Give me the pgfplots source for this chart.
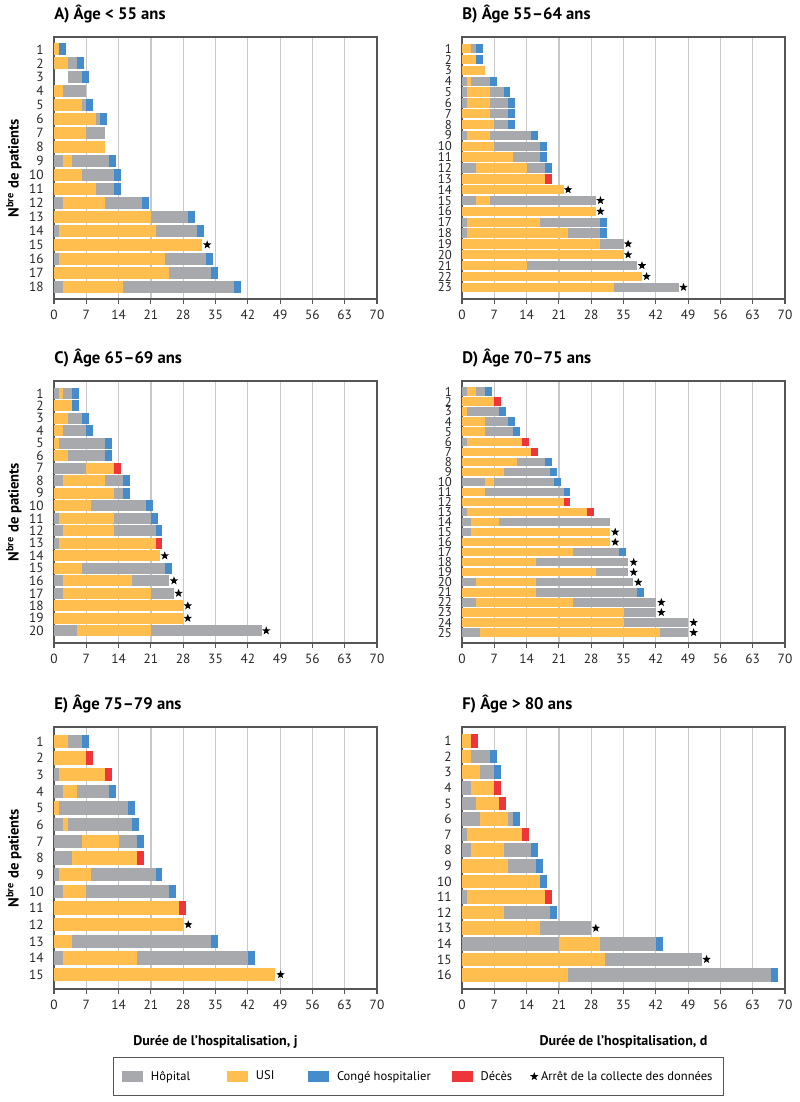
\documentclass[border=0pt]{standalone}
\usepackage{fontspec}
\setmainfont{PT Sans}
\usepackage{pgfplots}
\pgfplotsset{compat=1.18}
\definecolor{cgray}{RGB}{167,169,172}
\definecolor{cyel}{RGB}{255,190,77}
\definecolor{cblue}{RGB}{68,140,204}
\definecolor{cred}{RGB}{238,54,58}
\definecolor{gridc}{RGB}{200,200,200}
\definecolor{axc}{RGB}{85,85,85}
\pgfdeclareplotmark{fstar}{%
  \pgfpathmoveto{\pgfpointpolar{90}{\pgfplotmarksize}}%
  \pgfpathlineto{\pgfpointpolar{126}{0.42\pgfplotmarksize}}%
  \pgfpathlineto{\pgfpointpolar{162}{\pgfplotmarksize}}%
  \pgfpathlineto{\pgfpointpolar{198}{0.42\pgfplotmarksize}}%
  \pgfpathlineto{\pgfpointpolar{234}{\pgfplotmarksize}}%
  \pgfpathlineto{\pgfpointpolar{270}{0.42\pgfplotmarksize}}%
  \pgfpathlineto{\pgfpointpolar{306}{\pgfplotmarksize}}%
  \pgfpathlineto{\pgfpointpolar{342}{0.42\pgfplotmarksize}}%
  \pgfpathlineto{\pgfpointpolar{18}{\pgfplotmarksize}}%
  \pgfpathlineto{\pgfpointpolar{54}{0.42\pgfplotmarksize}}%
  \pgfpathclose
  \pgfusepathqfill
}
\pgfplotsset{
  panel/.style={
    width=242.25pt, height=196.5pt, scale only axis, anchor=north west,
    xmin=0, xmax=70, xtick={0,7,...,70},
    y dir=reverse,
    xmajorgrids,
    grid style={line width=0.9pt, draw=gridc},
    axis line style={draw=axc, line width=0.8pt},
    tick align=outside, xtick pos=left, ytick pos=left,
    major tick length=3.5pt,
    xtick style={draw=axc, line width=0.8pt},
    ytick style={draw=none},
    tick label style={font=\fontsize{10}{12}\selectfont, text=black!85},
    xticklabel style={yshift=-1.5pt},
    yticklabel style={inner ysep=0pt, inner xsep=4pt},
    /pgf/number format/assume math mode=true,
    unbounded coords=jump,
    title style={at={(axis description cs:0,1)}, anchor=base west, yshift=7pt, font=\bfseries\fontsize{12.5}{15}\selectfont, inner sep=0pt},
    ylabel style={at={(axis description cs:-0.124,0.5)}, anchor=center, font=\bfseries\fontsize{11}{13}\selectfont},
    xlabel style={at={(axis description cs:0.5,-0.202)}, anchor=center, font=\bfseries\fontsize{10.5}{12}\selectfont},
    seg/.style={no markers, line width=\bw, forget plot},
    st/.style={only marks, mark=fstar, mark size=3.3pt, black, forget plot},
  }
}
\begin{document}
\begin{tikzpicture}
\path[use as bounding box] (0,0) rectangle (599.25pt,-826.5pt);

% ---------------- A ----------------
\def\bw{8.8pt}
\begin{axis}[panel, at={(40.5pt,-27.75pt)}, ymin=0.12, ymax=18.88, ytick={1,...,18},
  title={A) Âge < 55 ans}, ylabel={N\textsuperscript{bre} de patients}]
\addplot[seg, cgray] coordinates {(3,2)(5,2)(nan,nan)(3,3)(6,3)(nan,nan)(2,4)(7,4)(nan,nan)(6,5)(7,5)(nan,nan)(9,6)(10,6)(nan,nan)(7,7)(11,7)(nan,nan)(0,9)(2,9)(nan,nan)(4,9)(12,9)(nan,nan)(6,10)(13,10)(nan,nan)(9,11)(13,11)(nan,nan)(0,12)(2,12)(nan,nan)(11,12)(19,12)(nan,nan)(21,13)(29,13)(nan,nan)(0,14)(1,14)(nan,nan)(22,14)(31,14)(nan,nan)(0,16)(1,16)(nan,nan)(24,16)(33,16)(nan,nan)(25,17)(34,17)(nan,nan)(0,18)(2,18)(nan,nan)(15,18)(39,18)};
\addplot[seg, cyel] coordinates {(0,1)(1,1)(nan,nan)(0,2)(3,2)(nan,nan)(0,4)(2,4)(nan,nan)(0,5)(6,5)(nan,nan)(0,6)(9,6)(nan,nan)(0,7)(7,7)(nan,nan)(0,8)(11,8)(nan,nan)(2,9)(4,9)(nan,nan)(0,10)(6,10)(nan,nan)(0,11)(9,11)(nan,nan)(2,12)(11,12)(nan,nan)(0,13)(21,13)(nan,nan)(1,14)(22,14)(nan,nan)(0,15)(32,15)(nan,nan)(1,16)(24,16)(nan,nan)(0,17)(25,17)(nan,nan)(2,18)(15,18)};
\addplot[seg, cblue] coordinates {(1,1)(2.5,1)(nan,nan)(5,2)(6.5,2)(nan,nan)(6,3)(7.5,3)(nan,nan)(7,5)(8.5,5)(nan,nan)(10,6)(11.5,6)(nan,nan)(12,9)(13.5,9)(nan,nan)(13,10)(14.5,10)(nan,nan)(13,11)(14.5,11)(nan,nan)(19,12)(20.5,12)(nan,nan)(29,13)(30.5,13)(nan,nan)(31,14)(32.5,14)(nan,nan)(33,16)(34.5,16)(nan,nan)(34,17)(35.5,17)(nan,nan)(39,18)(40.5,18)};
\addplot[st] coordinates {(33.2,15)};
\end{axis}

% ---------------- B ----------------
\def\bw{7pt}
\begin{axis}[panel, at={(346.5pt,-27.75pt)}, ymin=-0.08, ymax=24.08, ytick={1,...,23},
  yticklabel style={font=\fontsize{9.6}{10}\selectfont},
  title={B) Âge 55–64 ans}]
\addplot[seg, cgray] coordinates {(2,1)(3,1)(nan,nan)(0,4)(1,4)(nan,nan)(2,4)(6,4)(nan,nan)(0,5)(1,5)(nan,nan)(6,5)(9,5)(nan,nan)(0,6)(1,6)(nan,nan)(6,6)(10,6)(nan,nan)(6,7)(10,7)(nan,nan)(7,8)(10,8)(nan,nan)(0,9)(1,9)(nan,nan)(6,9)(15,9)(nan,nan)(7,10)(17,10)(nan,nan)(11,11)(17,11)(nan,nan)(0,12)(3,12)(nan,nan)(14,12)(18,12)(nan,nan)(0,15)(3,15)(nan,nan)(6,15)(29,15)(nan,nan)(0,17)(1,17)(nan,nan)(17,17)(30,17)(nan,nan)(0,18)(1,18)(nan,nan)(23,18)(30,18)(nan,nan)(30,19)(35,19)(nan,nan)(14,21)(38,21)(nan,nan)(33,23)(47,23)};
\addplot[seg, cyel] coordinates {(0,1)(2,1)(nan,nan)(0,2)(3,2)(nan,nan)(0,3)(5,3)(nan,nan)(1,4)(2,4)(nan,nan)(1,5)(6,5)(nan,nan)(1,6)(6,6)(nan,nan)(0,7)(6,7)(nan,nan)(0,8)(7,8)(nan,nan)(1,9)(6,9)(nan,nan)(0,10)(7,10)(nan,nan)(0,11)(11,11)(nan,nan)(3,12)(14,12)(nan,nan)(0,13)(18,13)(nan,nan)(0,14)(22,14)(nan,nan)(3,15)(6,15)(nan,nan)(0,16)(29,16)(nan,nan)(1,17)(17,17)(nan,nan)(1,18)(23,18)(nan,nan)(0,19)(30,19)(nan,nan)(0,20)(35,20)(nan,nan)(0,21)(14,21)(nan,nan)(0,22)(39,22)(nan,nan)(0,23)(33,23)};
\addplot[seg, cblue] coordinates {(3,1)(4.5,1)(nan,nan)(3,2)(4.5,2)(nan,nan)(6,4)(7.5,4)(nan,nan)(9,5)(10.5,5)(nan,nan)(10,6)(11.5,6)(nan,nan)(10,7)(11.5,7)(nan,nan)(10,8)(11.5,8)(nan,nan)(15,9)(16.5,9)(nan,nan)(17,10)(18.5,10)(nan,nan)(17,11)(18.5,11)(nan,nan)(18,12)(19.5,12)(nan,nan)(30,17)(31.5,17)(nan,nan)(30,18)(31.5,18)};
\addplot[seg, cred] coordinates {(18,13)(19.5,13)};
\addplot[st] coordinates {(23,14)(30,15)(30,16)(36,19)(36,20)(39,21)(40,22)(48,23)};
\end{axis}

% ---------------- C ----------------
\def\bw{8pt}
\begin{axis}[panel, at={(40.5pt,-285.75pt)}, ymin=0.02, ymax=20.98, ytick={1,...,20},
  title={C) Âge 65–69 ans}, ylabel={N\textsuperscript{bre} de patients}]
\addplot[seg, cgray] coordinates {(0,1)(1,1)(nan,nan)(2,1)(4,1)(nan,nan)(3,3)(6,3)(nan,nan)(2,4)(7,4)(nan,nan)(1,5)(11,5)(nan,nan)(3,6)(11,6)(nan,nan)(0,7)(7,7)(nan,nan)(0,8)(2,8)(nan,nan)(11,8)(15,8)(nan,nan)(13,9)(15,9)(nan,nan)(8,10)(20,10)(nan,nan)(0,11)(1,11)(nan,nan)(13,11)(21,11)(nan,nan)(0,12)(2,12)(nan,nan)(13,12)(22,12)(nan,nan)(0,13)(1,13)(nan,nan)(6,15)(24,15)(nan,nan)(0,16)(2,16)(nan,nan)(17,16)(25,16)(nan,nan)(0,17)(2,17)(nan,nan)(21,17)(26,17)(nan,nan)(0,20)(5,20)(nan,nan)(21,20)(45,20)};
\addplot[seg, cyel] coordinates {(1,1)(2,1)(nan,nan)(0,2)(4,2)(nan,nan)(0,3)(3,3)(nan,nan)(0,4)(2,4)(nan,nan)(0,5)(1,5)(nan,nan)(0,6)(3,6)(nan,nan)(7,7)(13,7)(nan,nan)(2,8)(11,8)(nan,nan)(0,9)(13,9)(nan,nan)(0,10)(8,10)(nan,nan)(1,11)(13,11)(nan,nan)(2,12)(13,12)(nan,nan)(1,13)(22,13)(nan,nan)(0,14)(23,14)(nan,nan)(0,15)(6,15)(nan,nan)(2,16)(17,16)(nan,nan)(2,17)(21,17)(nan,nan)(0,18)(28,18)(nan,nan)(0,19)(28,19)(nan,nan)(5,20)(21,20)};
\addplot[seg, cblue] coordinates {(4,1)(5.5,1)(nan,nan)(4,2)(5.5,2)(nan,nan)(6,3)(7.5,3)(nan,nan)(7,4)(8.5,4)(nan,nan)(11,5)(12.5,5)(nan,nan)(11,6)(12.5,6)(nan,nan)(15,8)(16.5,8)(nan,nan)(15,9)(16.5,9)(nan,nan)(20,10)(21.5,10)(nan,nan)(21,11)(22.5,11)(nan,nan)(22,12)(23.5,12)(nan,nan)(24,15)(25.5,15)};
\addplot[seg, cred] coordinates {(13,7)(14.5,7)(nan,nan)(22,13)(23.5,13)};
\addplot[st] coordinates {(24,14)(26,16)(27,17)(29,18)(29,19)(46,20)};
\end{axis}

% ---------------- D ----------------
\def\bw{6.25pt}
\begin{axis}[panel, at={(346.5pt,-285.75pt)}, ymin=-0.04, ymax=26.04, ytick={1,...,25},
  yticklabel style={font=\fontsize{9.6}{10}\selectfont},
  title={D) Âge 70–75 ans}]
\addplot[seg, cgray] coordinates {(0,1)(1,1)(nan,nan)(3,1)(5,1)(nan,nan)(1,3)(8,3)(nan,nan)(5,4)(10,4)(nan,nan)(5,5)(11,5)(nan,nan)(0,6)(1,6)(nan,nan)(12,8)(18,8)(nan,nan)(9,9)(19,9)(nan,nan)(0,10)(5,10)(nan,nan)(7,10)(20,10)(nan,nan)(5,11)(22,11)(nan,nan)(0,13)(1,13)(nan,nan)(0,14)(2,14)(nan,nan)(8,14)(32,14)(nan,nan)(0,15)(2,15)(nan,nan)(24,17)(34,17)(nan,nan)(16,18)(36,18)(nan,nan)(29,19)(36,19)(nan,nan)(0,20)(3,20)(nan,nan)(16,20)(37,20)(nan,nan)(16,21)(38,21)(nan,nan)(0,22)(3,22)(nan,nan)(24,22)(42,22)(nan,nan)(35,23)(42,23)(nan,nan)(35,24)(49,24)(nan,nan)(0,25)(4,25)(nan,nan)(43,25)(49,25)};
\addplot[seg, cyel] coordinates {(1,1)(3,1)(nan,nan)(0,2)(7,2)(nan,nan)(0,3)(1,3)(nan,nan)(0,4)(5,4)(nan,nan)(0,5)(5,5)(nan,nan)(1,6)(13,6)(nan,nan)(0,7)(15,7)(nan,nan)(0,8)(12,8)(nan,nan)(0,9)(9,9)(nan,nan)(5,10)(7,10)(nan,nan)(0,11)(5,11)(nan,nan)(0,12)(22,12)(nan,nan)(1,13)(27,13)(nan,nan)(2,14)(8,14)(nan,nan)(2,15)(32,15)(nan,nan)(0,16)(32,16)(nan,nan)(0,17)(24,17)(nan,nan)(0,18)(16,18)(nan,nan)(0,19)(29,19)(nan,nan)(3,20)(16,20)(nan,nan)(0,21)(16,21)(nan,nan)(3,22)(24,22)(nan,nan)(0,23)(35,23)(nan,nan)(0,24)(35,24)(nan,nan)(4,25)(43,25)};
\addplot[seg, cblue] coordinates {(5,1)(6.5,1)(nan,nan)(8,3)(9.5,3)(nan,nan)(10,4)(11.5,4)(nan,nan)(11,5)(12.5,5)(nan,nan)(18,8)(19.5,8)(nan,nan)(19,9)(20.5,9)(nan,nan)(20,10)(21.5,10)(nan,nan)(22,11)(23.5,11)(nan,nan)(34,17)(35.5,17)(nan,nan)(38,21)(39.5,21)};
\addplot[seg, cred] coordinates {(7,2)(8.5,2)(nan,nan)(13,6)(14.5,6)(nan,nan)(15,7)(16.5,7)(nan,nan)(22,12)(23.5,12)(nan,nan)(27,13)(28.5,13)};
\addplot[st] coordinates {(33.2,15)(33.2,16)(37.2,18)(37.2,19)(38.2,20)(43.2,22)(43.2,23)(50.2,24)(50.2,25)};
\end{axis}

% ---------------- E ----------------
\def\bw{10.1pt}
\begin{axis}[panel, at={(40.5pt,-545.25pt)}, ymin=0.14, ymax=15.86, ytick={1,...,15},
  title={E) Âge 75–79 ans}, ylabel={N\textsuperscript{bre} de patients},
  xlabel={Durée de l’hospitalisation, j}]
\addplot[seg, cgray] coordinates {(3,1)(6,1)(nan,nan)(0,3)(1,3)(nan,nan)(0,4)(2,4)(nan,nan)(5,4)(12,4)(nan,nan)(1,5)(16,5)(nan,nan)(0,6)(2,6)(nan,nan)(3,6)(17,6)(nan,nan)(0,7)(6,7)(nan,nan)(14,7)(18,7)(nan,nan)(0,8)(4,8)(nan,nan)(0,9)(1,9)(nan,nan)(8,9)(22,9)(nan,nan)(0,10)(2,10)(nan,nan)(7,10)(25,10)(nan,nan)(4,13)(34,13)(nan,nan)(0,14)(2,14)(nan,nan)(18,14)(42,14)};
\addplot[seg, cyel] coordinates {(0,1)(3,1)(nan,nan)(0,2)(7,2)(nan,nan)(1,3)(11,3)(nan,nan)(2,4)(5,4)(nan,nan)(0,5)(1,5)(nan,nan)(2,6)(3,6)(nan,nan)(6,7)(14,7)(nan,nan)(4,8)(18,8)(nan,nan)(1,9)(8,9)(nan,nan)(2,10)(7,10)(nan,nan)(0,11)(27,11)(nan,nan)(0,12)(28,12)(nan,nan)(0,13)(4,13)(nan,nan)(2,14)(18,14)(nan,nan)(0,15)(48,15)};
\addplot[seg, cblue] coordinates {(6,1)(7.5,1)(nan,nan)(12,4)(13.5,4)(nan,nan)(16,5)(17.5,5)(nan,nan)(17,6)(18.5,6)(nan,nan)(18,7)(19.5,7)(nan,nan)(22,9)(23.5,9)(nan,nan)(25,10)(26.5,10)(nan,nan)(34,13)(35.5,13)(nan,nan)(42,14)(43.5,14)};
\addplot[seg, cred] coordinates {(7,2)(8.5,2)(nan,nan)(11,3)(12.5,3)(nan,nan)(18,8)(19.5,8)(nan,nan)(27,11)(28.5,11)};
\addplot[st] coordinates {(29.1,12)(49.1,15)};
\end{axis}

% ---------------- F ----------------
\def\bw{10.2pt}
\begin{axis}[panel, at={(346.5pt,-545.25pt)}, ymin=0.1, ymax=16.9, ytick={1,...,16},
  title={F) Âge > 80 ans},
  xlabel={Durée de l’hospitalisation, d},
  legend columns=5,
  legend style={at={(axis description cs:-0.1347,-0.334)}, anchor=center,
    draw=axc, line width=0.8pt, fill=white,
    font=\fontsize{9.4}{11}\selectfont, inner xsep=6.5pt, inner ysep=8pt,
    /tikz/every even column/.append style={column sep=0pt}},
  legend cell align=left]
\addplot[seg, cgray] coordinates {(2,2)(6,2)(nan,nan)(4,3)(7,3)(nan,nan)(0,4)(2,4)(nan,nan)(0,5)(3,5)(nan,nan)(0,6)(4,6)(nan,nan)(10,6)(11,6)(nan,nan)(0,7)(1,7)(nan,nan)(0,8)(2,8)(nan,nan)(9,8)(15,8)(nan,nan)(10,9)(16,9)(nan,nan)(0,11)(1,11)(nan,nan)(9,12)(19,12)(nan,nan)(17,13)(28,13)(nan,nan)(0,14)(21,14)(nan,nan)(30,14)(42,14)(nan,nan)(31,15)(52,15)(nan,nan)(23,16)(67,16)};
\addplot[seg, cyel] coordinates {(0,1)(2,1)(nan,nan)(0,2)(2,2)(nan,nan)(0,3)(4,3)(nan,nan)(2,4)(7,4)(nan,nan)(3,5)(8,5)(nan,nan)(4,6)(10,6)(nan,nan)(1,7)(13,7)(nan,nan)(2,8)(9,8)(nan,nan)(0,9)(10,9)(nan,nan)(0,10)(17,10)(nan,nan)(1,11)(18,11)(nan,nan)(0,12)(9,12)(nan,nan)(0,13)(17,13)(nan,nan)(21,14)(30,14)(nan,nan)(0,15)(31,15)(nan,nan)(0,16)(23,16)};
\addplot[seg, cblue] coordinates {(6,2)(7.5,2)(nan,nan)(7,3)(8.5,3)(nan,nan)(11,6)(12.5,6)(nan,nan)(15,8)(16.5,8)(nan,nan)(16,9)(17.5,9)(nan,nan)(17,10)(18.5,10)(nan,nan)(19,12)(20.5,12)(nan,nan)(42,14)(43.5,14)(nan,nan)(67,16)(68.5,16)};
\addplot[seg, cred] coordinates {(2,1)(3.5,1)(nan,nan)(7,4)(8.5,4)(nan,nan)(8,5)(9.5,5)(nan,nan)(13,7)(14.5,7)(nan,nan)(18,11)(19.5,11)};
\addplot[st] coordinates {(29,13)(53,15)};
\addlegendimage{legend image code/.code={\fill[cgray] (0pt,-3.75pt) rectangle (15pt,3.75pt); \path (19pt,0pt);}}
\addlegendentry{\makebox[55pt][l]{Hôpital}}
\addlegendimage{legend image code/.code={\fill[cyel] (0pt,-3.75pt) rectangle (15pt,3.75pt); \path (19pt,0pt);}}
\addlegendentry{\makebox[37pt][l]{USI}}
\addlegendimage{legend image code/.code={\fill[cblue] (0pt,-3.75pt) rectangle (15pt,3.75pt); \path (19pt,0pt);}}
\addlegendentry{\makebox[84pt][l]{Congé hospitalier}}
\addlegendimage{legend image code/.code={\fill[cred] (0pt,-3.75pt) rectangle (15pt,3.75pt); \path (19pt,0pt);}}
\addlegendentry{\makebox[35pt][l]{Décès}}
\addlegendimage{legend image code/.code={\pgfsetplotmarksize{3.3pt}\pgftransformshift{\pgfpoint{3.5pt}{0pt}}\pgfuseplotmark{fstar}\pgftransformreset}}
\addlegendentry{Arrêt de la collecte des données}
\end{axis}
\end{tikzpicture}
\end{document}
